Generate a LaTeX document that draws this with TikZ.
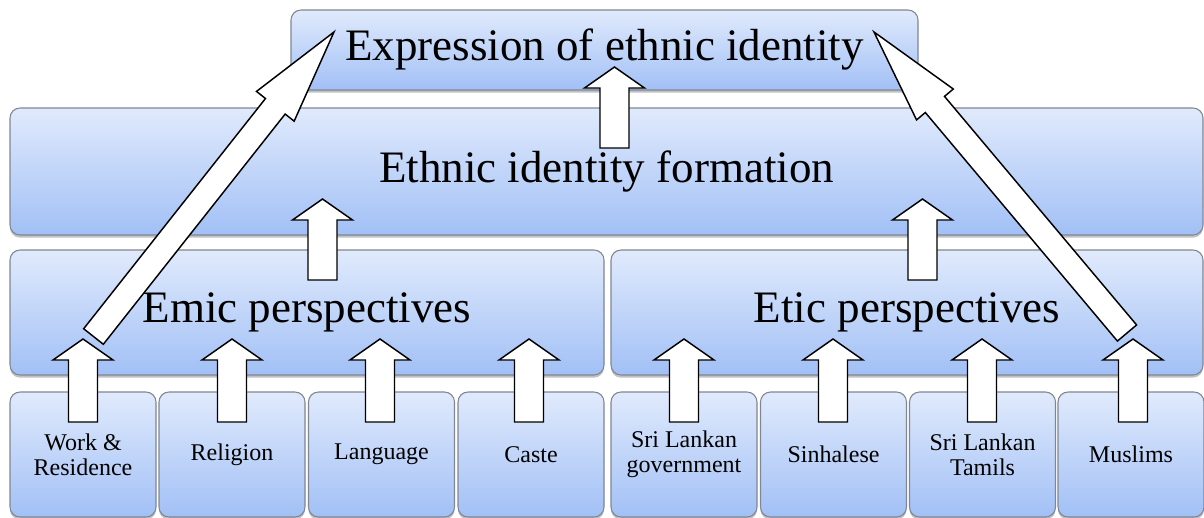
\documentclass[tikz,border=0pt]{standalone}
\usepackage{fontspec}
\setmainfont{Liberation Serif}
\usetikzlibrary{calc,shadows}
\definecolor{boxtop}{RGB}{224,234,252}
\definecolor{boxbot}{RGB}{162,192,246}
\definecolor{boxline}{RGB}{128,134,146}
\tikzset{
  pbox/.style={draw=boxline, line width=0.8pt, top color=boxtop, bottom color=boxbot,
    rounded corners=7.5pt, inner sep=0pt, align=center,
    drop shadow={shadow xshift=0pt, shadow yshift=-2pt, opacity=0.35, fill=black!70}},
  bigtext/.style={font=\fontsize{33.75pt}{40pt}\selectfont},
  smalltext/.style={font=\fontsize{18pt}{18.75pt}\selectfont},
  blockarrow/.style={draw=black, line width=1.1pt, fill=white, line join=miter},
}
% #1 start, #2 tip (coordinate names), #3 half shaft, #4 half head, #5 head length
\newcommand\barrow[5]{%
  \coordinate (#1-hb) at ($(#2)!#5!(#1)$);
  \draw[blockarrow] ($(#1)!#3!90:(#2)$) -- ($(#1-hb)!#3!90:(#2)$) -- ($(#1-hb)!#4!90:(#2)$)
    -- (#2) -- ($(#1-hb)!#4!-90:(#2)$) -- ($(#1-hb)!#3!-90:(#2)$) -- ($(#1)!#3!-90:(#2)$) -- cycle;
}
\newcommand\varrow[2]{\barrow{#1}{#2}{10.875pt}{22.5pt}{15.75pt}}
\newcommand\darrow[2]{\barrow{#1}{#2}{9.4pt}{18pt}{71pt}}
\begin{document}
\begin{tikzpicture}[x=0.75pt, y=-0.75pt]
\useasboundingbox (0,0) rectangle (1204,518);
% boxes
\node[pbox, bigtext, minimum width=627*0.75pt, minimum height=80*0.75pt] (expr) at (604.5,50) {Expression of ethnic identity};
\node[pbox, bigtext, minimum width=1193*0.75pt, minimum height=127*0.75pt] (form) at (606.5,171.5) {Ethnic identity formation};
\node[pbox, bigtext, minimum width=594*0.75pt, minimum height=125*0.75pt] (emic) at (307,312.5) {Emic perspectives};
\node[pbox, bigtext, minimum width=592*0.75pt, minimum height=125*0.75pt] (etic) at (907,312.5) {Etic perspectives};
\tikzset{sbox/.style={pbox, smalltext, minimum width=146*0.75pt, minimum height=125*0.75pt}}
\node[sbox] (work) at (83,454.5) {Work \&\\Residence};
\node[sbox] (rel) at (232,454.5) {Religion};
\node[sbox] (lang) at (381.5,454.5) {Language};
\node[sbox] (caste) at (531,454.5) {Caste};
\node[sbox] (gov) at (684,454.5) {Sri Lankan\\government};
\node[sbox] (sinh) at (833.5,454.5) {Sinhalese};
\node[sbox] (tam) at (982.5,454.5) {Sri Lankan\\Tamils};
\node[sbox] (mus) at (1131,454.5) {Muslims};
% arrow end points
\coordinate (s1) at (83,422);   \coordinate (t1) at (83,339);
\coordinate (s2) at (232,422);  \coordinate (t2) at (232,339);
\coordinate (s3) at (380,422);  \coordinate (t3) at (380,339);
\coordinate (s4) at (529,422);  \coordinate (t4) at (529,339);
\coordinate (s5) at (684,422);  \coordinate (t5) at (684,339);
\coordinate (s6) at (833,422);  \coordinate (t6) at (833,339);
\coordinate (s7) at (982,422);  \coordinate (t7) at (982,339);
\coordinate (s8) at (1133,422); \coordinate (t8) at (1133,339);
\coordinate (se) at (322.5,280); \coordinate (te) at (322.5,199);
\coordinate (sf) at (922.5,280); \coordinate (tf) at (922.5,199);
\coordinate (sg) at (614.5,148); \coordinate (tg) at (614.5,67);
\coordinate (sl) at (93.5,336.5); \coordinate (tl) at (334,32);
\coordinate (sr) at (1127,333);  \coordinate (tr) at (874,32);
% arrows
\varrow{s1}{t1}\varrow{s2}{t2}\varrow{s3}{t3}\varrow{s4}{t4}
\varrow{s5}{t5}\varrow{s6}{t6}\varrow{s7}{t7}\varrow{s8}{t8}
\varrow{se}{te}\varrow{sf}{tf}\varrow{sg}{tg}
\darrow{sl}{tl}\darrow{sr}{tr}
\end{tikzpicture}
\end{document}
